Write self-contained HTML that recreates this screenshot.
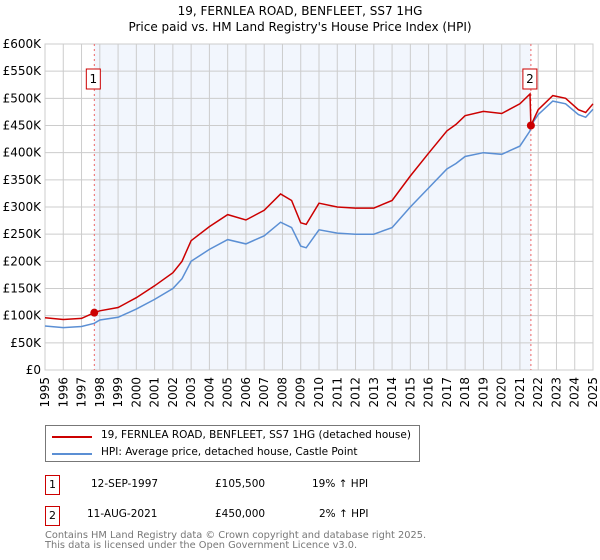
<!DOCTYPE html>
<html><head><meta charset="utf-8"><style>
body{margin:0;background:#fff;font-family:"DejaVu Sans","Liberation Sans",sans-serif;}
#wrap{position:relative;width:600px;height:560px;overflow:hidden}
.t{position:absolute;white-space:nowrap;font-size:10.5px;color:#000}
.box{position:absolute;border:1px solid #c00;width:13px;height:18px;font-size:11px;text-align:center;line-height:18px;background:#fff}
</style></head><body><div id="wrap">
<svg id="chart" width="600" height="420" style="position:absolute;left:0;top:0"></svg>
<div style="position:absolute;left:45px;top:425px;width:373px;height:35px;border:1px solid #777">
 <div style="position:absolute;left:6px;top:10px;width:40px;height:2px;background:#c00"></div>
 <div class="t" style="left:55px;top:3px">19, FERNLEA ROAD, BENFLEET, SS7 1HG (detached house)</div>
 <div style="position:absolute;left:6px;top:27px;width:40px;height:2px;background:#5b8fd4"></div>
 <div class="t" style="left:55px;top:20px">HPI: Average price, detached house, Castle Point</div>
</div>
<div class="box" style="left:45px;top:475px">1</div>
<div class="t" style="left:91px;top:478px">12-SEP-1997</div>
<div class="t" style="left:215px;top:478px">£105,500</div>
<div class="t" style="left:312px;top:478px">19% ↑ HPI</div>
<div class="box" style="left:45px;top:506px">2</div>
<div class="t" style="left:87px;top:508px">11-AUG-2021</div>
<div class="t" style="left:215px;top:508px">£450,000</div>
<div class="t" style="left:319px;top:508px">2% ↑ HPI</div>
<div class="t" style="left:45px;top:531px;color:#777;line-height:10px;font-size:9.8px">Contains HM Land Registry data © Crown copyright and database right 2025.<br>This data is licensed under the Open Government Licence v3.0.</div>
</div>
<script>
const dates=[1995,1996,1997,1997.7,1998,1999,2000,2001,2002,2002.5,2003,2004,2005,2006,2007,2007.9,2008.5,2009,2009.3,2010,2011,2012,2013,2014,2015,2016,2017,2017.5,2018,2019,2020,2021,2021.55,2021.6,2022,2022.8,2023.5,2024.2,2024.6,2025];
const hpi=[81,78,80,86,92,97,112,130,150,168,200,222,240,232,247,272,262,228,225,258,252,250,250,262,300,335,370,380,393,400,397,412,440,450,470,495,490,470,465,480];
const paid=[96,93,95,105.5,109,115,133,155,179,200,238,264,286,276,294,324,312,271,268,307,300,298,298,312,357,399,440,452,468,476,472,490,508,450,479,505,500,479,474,490];
const yTicks=[0,50,100,150,200,250,300,350,400,450,500,550,600];
const xYears=[1995,1996,1997,1998,1999,2000,2001,2002,2003,2004,2005,2006,2007,2008,2009,2010,2011,2012,2013,2014,2015,2016,2017,2018,2019,2020,2021,2022,2023,2024,2025];
const sales=[{n:"1",d:1997.7,v:105.5},{n:"2",d:2021.6,v:450}];
const L=45,R=593,T=44,B=370;
const x=d=>L+(d-1995)/30*(R-L), y=v=>B-v/600*(B-T);
const svg=document.getElementById('chart');const NS='http://www.w3.org/2000/svg';
function mk(tag,at,name){const e=document.createElementNS(NS,tag);for(const k in at)e.setAttribute(k,at[k]);


svg.appendChild(e);return e;}
function tx(s,at,name){const e=mk('text',at,name);e.textContent=s;return e;}
tx('19, FERNLEA ROAD, BENFLEET, SS7 1HG',{x:300,y:15,'text-anchor':'middle','font-size':12},'chart-title');
tx("Price paid vs. HM Land Registry's House Price Index (HPI)",{x:300,y:31,'text-anchor':'middle','font-size':12},'chart-subtitle');
mk('rect',{x:x(sales[0].d),y:T,width:x(sales[1].d)-x(sales[0].d),height:B-T,fill:'#eef3fc',opacity:0.75},'ownership-shade');
xYears.forEach(yr=>{mk('line',{x1:x(yr),x2:x(yr),y1:T,y2:B,stroke:'#ccc'},'x-grid');
 tx(String(yr),{transform:`translate(${x(yr)+4},${B+7}) rotate(-90)`,'text-anchor':'end','font-size':12},'x-tick-label');});
yTicks.forEach(v=>{mk('line',{x1:L,x2:R,y1:y(v),y2:y(v),stroke:'#ccc'},'y-grid');
 tx(v?'£'+v+'K':'£0',{x:L-4,y:y(v)+4,'text-anchor':'end','font-size':12},'y-tick-label');});
mk('rect',{x:L,y:T,width:R-L,height:B-T,fill:'none',stroke:'#ccc'},'plot-frame');
sales.forEach(s=>{mk('line',{x1:x(s.d),x2:x(s.d),y1:T,y2:B,stroke:'#e66','stroke-dasharray':'2,3'},'sale-marker-line');});
const pts=a=>a.map((v,i)=>x(dates[i]).toFixed(1)+','+y(v).toFixed(1)).join(' ');
mk('polyline',{points:pts(hpi),fill:'none',stroke:'#5b8fd4','stroke-width':1.5},'hpi-line');
mk('polyline',{points:pts(paid),fill:'none',stroke:'#c00','stroke-width':1.5},'price-paid-line');
sales.forEach(s=>{mk('circle',{cx:x(s.d),cy:y(s.v),r:4,fill:'#c00'},'sale-point');
 mk('rect',{x:x(s.d)-8,y:69,width:14,height:20,fill:'#fff',stroke:'#c00'},'sale-badge');
 tx(s.n,{x:x(s.d)-1,y:83,'text-anchor':'middle','font-size':12},'sale-badge-label');});
</script></body></html>
